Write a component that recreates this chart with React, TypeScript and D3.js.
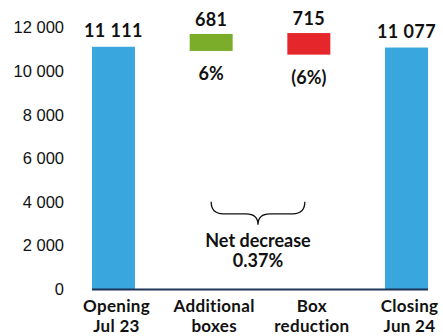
import React from "react";
import * as d3 from "d3";

// categories (two-line labels)
const categories = ["Opening", "Additional", "Box", "Closing"];
const categoryLine2 = ["Jul 23", "boxes", "reduction", "Jun 24"];

// bar extents [low, high]
const barLow = [0, 10920, 10750, 0];
const barHigh = [11111, 11700, 11740, 11077];
const barColors = ["#3aa6de", "#7bad2b", "#e5262b", "#3aa6de"];

// printed labels
const valueLabels = ["11 111", "681", "715", "11 077"];
const pctLabels = ["", "6%", "(6%)", ""];
const yTicks = [0, 2000, 4000, 6000, 8000, 10000, 12000];
const noteLines = ["Net decrease", "0.37%"];

const W = 443;
const H = 336;

export default function App() {
  const x = d3.scaleBand<string>().domain(categories).range([92, 428]).paddingInner(0.56).paddingOuter(0);
  const y = d3.scaleLinear().domain([0, 12000]).range([289, 27.4]);
  const fmt = (v: number) => d3.format(",")(v).replace(/,/g, " ");
  const bw = x.bandwidth();
  const cx = (c: string) => (x(c) as number) + bw / 2;

  // brace between the two middle bars
  const bl = cx(categories[1]);
  const br = cx(categories[2]) - 4;
  const bm = (bl + br) / 2;
  const bt = y(4000);
  const bmid = y(3450);
  const btip = y(2950);
  const brace = `M${bl},${bt} Q${bl},${bmid} ${bl + 12},${bmid} L${bm - 12},${bmid} Q${bm},${bmid} ${bm},${btip} Q${bm},${bmid} ${bm + 12},${bmid} L${br - 12},${bmid} Q${br},${bmid} ${br},${bt}`;

  return (
    <svg width={W} height={H} style={{ position: "absolute", left: 0, top: 0, background: "#fff" }}>
      {/* y tick labels */}
      <g fontFamily="'Liberation Sans', Arial, sans-serif" fontSize={16.5} fill="#111">
        {yTicks.map((t) => (
          <text key={t} x={64} y={y(t)} textAnchor="end" dominantBaseline="central">
            {fmt(t)}
          </text>
        ))}
      </g>

      {/* bars */}
      {categories.map((c, i) => (
        <rect key={c} x={x(c)} y={y(barHigh[i])} width={bw} height={y(barLow[i]) - y(barHigh[i])} fill={barColors[i]} />
      ))}

      {/* baseline */}
      <line x1={x.range()[0]} x2={x.range()[1]} y1={y(0) + 0.5} y2={y(0) + 0.5} stroke="#1d3557" strokeWidth={2} />

      <g fontFamily="Lato, 'Open Sans', sans-serif" fontWeight="bold" fill="#111" textAnchor="middle">
        {/* value labels */}
        {categories.map((c, i) => (
          <text key={c} x={cx(c)} y={i === 0 || i === 3 ? y(barHigh[i]) - 17 : y(barHigh[i]) - 15} fontSize={18} letterSpacing={0.4} dominantBaseline="central">
            {valueLabels[i]}
          </text>
        ))}
        {categories.map((c, i) =>
          pctLabels[i] ? (
            <text key={c} x={cx(c)} y={y(barLow[i]) + 22} fontSize={18} dominantBaseline="central">
              {pctLabels[i]}
            </text>
          ) : null
        )}

        {/* category labels */}
        {categories.map((c, i) => (
          <g key={c}>
            <text x={cx(c) + 3} y={305} fontSize={17} letterSpacing={0.3} dominantBaseline="central">
              {c}
            </text>
            <text x={cx(c) + 3} y={325} fontSize={17} letterSpacing={0.3} dominantBaseline="central">
              {categoryLine2[i]}
            </text>
          </g>
        ))}

        {/* note */}
        {noteLines.map((l, i) => (
          <text key={l} x={bm} y={btip + 15 + i * 20} fontSize={18} dominantBaseline="central">
            {l}
          </text>
        ))}
      </g>

      <path d={brace} fill="none" stroke="#111" strokeWidth={1.3} />
    </svg>
  );
}
